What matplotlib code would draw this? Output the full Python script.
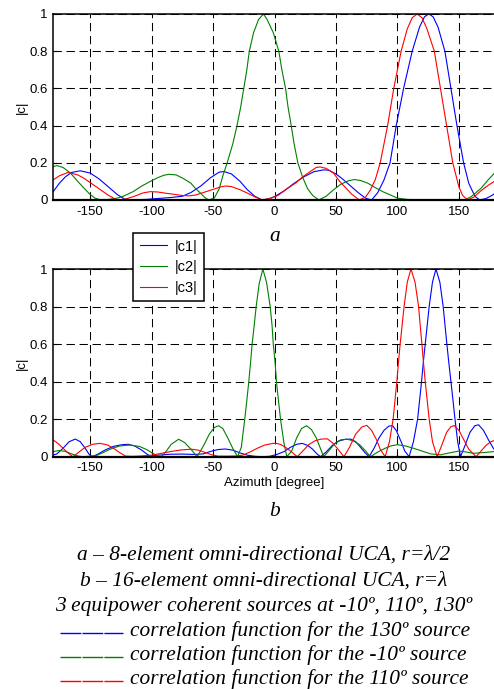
import matplotlib
matplotlib.use("Agg")
import matplotlib.pyplot as plt
from matplotlib.lines import Line2D

plt.rcParams["axes.unicode_minus"] = False

# ---------------- data ----------------
# (a) 8-element UCA, r = lambda/2
a_c1_az = [-180, -175, -170, -165, -158, -150, -143, -135, -128, -122, -115, -105, -95, -85, -75, -68, -60, -52,
           -45, -41, -35, -28, -22, -16, -10, -4, 0, 8, 16, 24, 32, 40, 44, 50, 55, 62, 68, 74, 79, 84, 89, 94,
           99, 105, 112, 118, 122, 125.5, 129, 133, 138.6, 143.5, 148.4, 153.8, 158, 163, 167, 172, 177, 180]
a_c1 = [0.045, 0.09, 0.125, 0.148, 0.157, 0.145, 0.115, 0.07, 0.03, 0.005, 0.0, 0.003, 0.008, 0.013, 0.02, 0.04,
        0.075, 0.12, 0.15, 0.153, 0.14, 0.1, 0.055, 0.02, 0.0, 0.008, 0.018, 0.05, 0.09, 0.125, 0.152, 0.162, 0.16,
        0.14, 0.115, 0.075, 0.04, 0.01, 0.0, 0.04, 0.107, 0.2, 0.4, 0.6, 0.8, 0.93, 0.985, 1.0, 0.985, 0.93, 0.8,
        0.6, 0.4, 0.2, 0.09, 0.02, 0.0, 0.008, 0.025, 0.04]

a_c2_az = [-180, -177, -172, -166, -160, -155, -150, -146, -141, -135, -128, -123, -115, -108, -101, -95, -90, -86,
           -80, -74, -68, -64, -60, -57, -53.5, -49, -45, -42, -38.5, -34, -30.5, -27.5, -25, -22.5, -20.5, -17,
           -13, -9, -6, -1, 3.5, 6, 9, 11, 13.6, 16, 19, 23, 27, 31, 36, 42, 48, 54, 60, 65, 70, 76, 81, 88, 95,
           100, 108, 120, 140, 155, 160, 168, 174, 179, 180]
a_c2 = [0.18, 0.185, 0.175, 0.145, 0.1, 0.064, 0.03, 0.01, 0.0, 0.003, 0.01, 0.02, 0.045, 0.075, 0.1, 0.12, 0.133,
        0.138, 0.135, 0.115, 0.09, 0.06, 0.036, 0.015, 0.0, 0.01, 0.06, 0.13, 0.2, 0.3, 0.4, 0.5, 0.6, 0.7, 0.8,
        0.9, 0.97, 1.0, 0.97, 0.9, 0.8, 0.7, 0.6, 0.5, 0.4, 0.3, 0.2, 0.12, 0.06, 0.025, 0.0, 0.02, 0.055, 0.085,
        0.103, 0.11, 0.105, 0.09, 0.07, 0.045, 0.025, 0.01, 0.003, 0.0, 0.0, 0.002, 0.018, 0.063, 0.11, 0.145, 0.15]

a_c3_az = [-180, -175, -168, -160, -155, -148, -142, -135, -128, -121, -114, -107, -101, -95, -88, -82, -76, -70,
           -64, -57, -50, -44, -40, -35, -28, -23, -17, -12, -9, -3, 3, 10, 17, 23, 28, 34, 37, 42, 48, 53, 58, 63,
           69, 74, 78, 82, 86, 92, 97, 103, 108, 112, 116, 120, 124, 130, 135, 140, 145, 150, 153, 157, 162, 168,
           174, 180]
a_c3 = [0.108, 0.13, 0.148, 0.135, 0.117, 0.085, 0.057, 0.025, 0.0, 0.005, 0.02, 0.038, 0.045, 0.043, 0.036, 0.031,
        0.025, 0.022, 0.027, 0.042, 0.057, 0.07, 0.075, 0.072, 0.055, 0.04, 0.02, 0.005, 0.0, 0.01, 0.025, 0.06,
        0.09, 0.125, 0.148, 0.175, 0.178, 0.17, 0.145, 0.1, 0.065, 0.03, 0.0, 0.015, 0.054, 0.11, 0.2, 0.4, 0.6,
        0.8, 0.92, 0.98, 1.0, 0.98, 0.92, 0.8, 0.6, 0.4, 0.2, 0.07, 0.025, 0.0, 0.015, 0.05, 0.08, 0.105]

# (b) 16-element UCA, r = lambda
b_c1_az = [-180, -177, -172, -167, -162, -158, -154, -151, -148.6, -144, -138, -131, -124, -119, -114, -108, -104,
           -101, -95, -85, -75, -65, -58, -52, -46, -40, -34, -28, -22, -16, -10, -4, 2, 8, 13, 18, 22.5, 27, 31,
           34.5, 37.5, 42, 47, 52, 57, 62, 66, 70, 73.5, 76.9, 81, 85, 89, 93, 96, 99, 103, 106, 109.5, 113, 116.4,
           118, 119.6, 121, 122.6, 124.2, 125.8, 128.5, 131.3, 134.5, 137.2, 138.7, 140.2, 141.8, 143.5, 145.2,
           146.8, 149, 151.3, 155, 159, 163, 166, 170, 174, 178, 180]
b_c1 = [0.009, 0.015, 0.045, 0.08, 0.094, 0.08, 0.045, 0.015, 0.0, 0.012, 0.035, 0.055, 0.064, 0.066, 0.058, 0.035,
        0.015, 0.003, 0.008, 0.013, 0.014, 0.012, 0.015, 0.028, 0.038, 0.041, 0.035, 0.02, 0.008, 0.002, 0.0,
        0.002, 0.012, 0.028, 0.05, 0.066, 0.071, 0.06, 0.04, 0.015, 0.0, 0.025, 0.06, 0.083, 0.092, 0.094, 0.08,
        0.05, 0.022, 0.0, 0.045, 0.1, 0.14, 0.163, 0.165, 0.14, 0.08, 0.03, 0.0, 0.08, 0.2, 0.3, 0.4, 0.5, 0.6,
        0.7, 0.8, 0.93, 1.0, 0.93, 0.8, 0.7, 0.6, 0.5, 0.4, 0.3, 0.2, 0.08, 0.0, 0.06, 0.13, 0.165, 0.17, 0.14,
        0.09, 0.045, 0.03]

b_c2_az = [-180, -175, -170, -165, -160, -156, -150, -145, -140, -133, -126, -118, -110, -104, -99, -95, -92, -88,
           -84, -78, -73, -68, -63, -58, -53, -49, -45.5, -42, -38, -34, -30, -27, -24.2, -22.5, -20.9, -19.5,
           -18.2, -16.5, -14.9, -12.5, -9.5, -6.5, -3.5, -2, -1, 0.5, 1.6, 3.2, 4.9, 7.5, 10, 14, 18, 22, 26, 30,
           34, 37, 40, 44, 49, 54, 59, 64, 69, 73.5, 78, 84, 90, 95, 100, 106, 113, 120, 127, 135, 142, 150, 156,
           162, 170, 178, 180]
b_c2 = [0.027, 0.033, 0.028, 0.015, 0.004, 0.0, 0.003, 0.006, 0.02, 0.042, 0.057, 0.062, 0.055, 0.038, 0.018, 0.003,
        0.0, 0.03, 0.066, 0.093, 0.075, 0.04, 0.0, 0.055, 0.12, 0.155, 0.165, 0.15, 0.1, 0.045, 0.0, 0.05, 0.2,
        0.3, 0.4, 0.5, 0.6, 0.7, 0.8, 0.92, 1.0, 0.93, 0.8, 0.7, 0.6, 0.5, 0.4, 0.3, 0.2, 0.08, 0.0, 0.03, 0.1,
        0.15, 0.165, 0.145, 0.1, 0.05, 0.0, 0.03, 0.07, 0.09, 0.093, 0.085, 0.065, 0.035, 0.0, 0.025, 0.045,
        0.058, 0.064, 0.058, 0.045, 0.03, 0.015, 0.01, 0.02, 0.03, 0.025, 0.018, 0.022, 0.027, 0.027]

b_c3_az = [-180, -176, -172, -168, -164, -159, -154, -148, -142, -136, -131, -126, -121, -115, -108, -100, -92, -84,
           -76, -68, -62, -56, -51, -46, -38, -30, -25, -20, -14, -8, -2, 1, 5, 10, 14, 18.5, 23, 28, 33, 38, 43,
           47, 51, 54, 56.5, 61, 66, 71, 75, 79, 83, 86, 90, 93.5, 96.5, 98, 99.5, 100.8, 102.2, 103.8, 105.4, 108,
           111, 114.3, 117.2, 118.5, 119.9, 121.2, 122.6, 124.2, 125.8, 128.5, 132.3, 136, 140, 143.5, 146.3, 150,
           154, 158, 163.9, 168, 172, 176, 180]
b_c3 = [0.089, 0.07, 0.045, 0.02, 0.0, 0.025, 0.05, 0.066, 0.071, 0.063, 0.045, 0.022, 0.003, 0.002, 0.004, 0.008,
        0.018, 0.028, 0.036, 0.04, 0.035, 0.022, 0.01, 0.003, 0.003, 0.004, 0.01, 0.025, 0.045, 0.062, 0.07,
        0.072, 0.065, 0.045, 0.025, 0.0, 0.03, 0.065, 0.085, 0.094, 0.095, 0.075, 0.045, 0.02, 0.0, 0.05, 0.12,
        0.158, 0.167, 0.14, 0.09, 0.04, 0.0, 0.08, 0.2, 0.3, 0.4, 0.5, 0.6, 0.7, 0.8, 0.93, 1.0, 0.93, 0.8, 0.7,
        0.6, 0.5, 0.4, 0.3, 0.2, 0.08, 0.0, 0.06, 0.13, 0.16, 0.166, 0.14, 0.09, 0.04, 0.0, 0.03, 0.06, 0.08,
        0.089]

x_ticks = [-150, -100, -50, 0, 50, 100, 150]
y_ticks = [0, 0.2, 0.4, 0.6, 0.8, 1]
y_ticklabels = ["0", "0.2", "0.4", "0.6", "0.8", "1"]
legend_labels = ["|c1|", "|c2|", "|c3|"]
colors = ["#0000ff", "#008000", "#ff0000"]

caption_lines = [
    "a – 8-element omni-directional UCA, r=λ/2",
    "b – 16-element omni-directional UCA, r=λ",
    "3 equipower coherent sources at -10º, 110º, 130º",
]
key_lines = [
    "correlation function for the 130º source",
    "correlation function for the -10º source",
    "correlation function for the 110º source",
]

# ---------------- figure ----------------
W, H = 494, 689
fig = plt.figure(figsize=(W / 100, H / 100), dpi=100)
fig.patch.set_facecolor("white")

sans = "Liberation Sans"
serif = "Liberation Serif"
cap_size = 15.4


def fx(px):
    return px / W


def fy(py):
    return 1 - py / H


def make_axes(top_px, bottom_px):
    left, right = 53.2, 495.8
    ax = fig.add_axes([fx(left), fy(bottom_px), (right - left) / W, (bottom_px - top_px) / H])
    ax.set_xlim(-180, 180)
    ax.set_ylim(0, 1)
    ax.set_xticks(x_ticks)
    ax.set_yticks(y_ticks)
    ax.set_yticklabels(y_ticklabels)
    ax.grid(True, color="black", linestyle=(0, (8, 4.5)), linewidth=0.75)
    ax.tick_params(direction="in", length=3, width=0.8, labelsize=9.5, pad=4, colors="black")
    for lab in ax.get_xticklabels() + ax.get_yticklabels():
        lab.set_family(sans)
    for s in ax.spines.values():
        s.set_linewidth(1.1)
    ax.spines["bottom"].set_linewidth(1.6)
    ax.set_ylabel("|c|", family=sans, fontsize=9.5, labelpad=1)
    return ax


ax_a = make_axes(14, 200)
for az, v, c in zip([a_c1_az, a_c2_az, a_c3_az], [a_c1, a_c2, a_c3], colors):
    ax_a.plot(az, v, color=c, linewidth=0.8)

ax_b = make_axes(269, 456.7)
handles = []
for az, v, c, lab in zip([b_c1_az, b_c2_az, b_c3_az], [b_c1, b_c2, b_c3], colors, legend_labels):
    h, = ax_b.plot(az, v, color=c, linewidth=0.8, label=lab)
    handles.append(h)
ax_b.set_xlabel("Azimuth [degree]", family=sans, fontsize=9.5, labelpad=2)

leg = ax_b.legend(handles=handles, loc="upper left", bbox_to_anchor=(fx(133), fy(233)),
                  bbox_transform=fig.transFigure, fancybox=False, framealpha=1, edgecolor="black",
                  prop={"family": sans, "size": 10.5}, handlelength=1.9, handletextpad=0.5,
                  labelspacing=0.45, borderpad=0.45, borderaxespad=0)
leg.get_frame().set_linewidth(1.1)
leg.set_zorder(10)

# panel letters
fig.text(fx(275), fy(236), "a", family=serif, style="italic", fontsize=cap_size, ha="center", va="center")
fig.text(fx(275), fy(512), "b", family=serif, style="italic", fontsize=cap_size, ha="center", va="center")

# caption
for line, y in zip(caption_lines, [555, 581, 606]):
    fig.text(fx(264), fy(y), line, family=serif, style="italic", fontsize=cap_size, ha="center", va="center")

for line, y, c in zip(key_lines, [631, 655, 679], colors):
    fig.add_artist(Line2D([fx(60), fx(123)], [fy(y + 2), fy(y + 2)], color=c, linewidth=1.0,
                          linestyle=(0, (15, 0.8)), transform=fig.transFigure))
    fig.text(fx(130), fy(y), line, family=serif, style="italic", fontsize=cap_size, ha="left", va="center")

fig.savefig("out.png", dpi=100, facecolor="white")
